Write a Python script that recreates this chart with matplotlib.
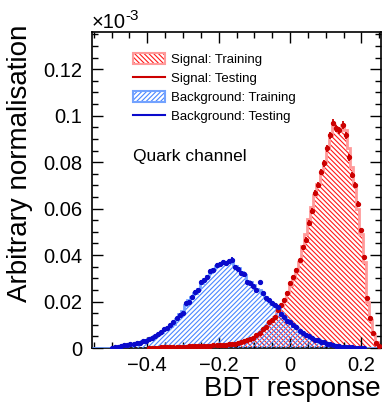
import numpy as np
import matplotlib
matplotlib.use("Agg")
import matplotlib.pyplot as plt
from matplotlib.patches import Patch
from matplotlib.lines import Line2D
from matplotlib.legend_handler import HandlerTuple
from matplotlib.ticker import MultipleLocator, FuncFormatter

plt.rcParams['font.family'] = ['Liberation Sans', 'DejaVu Sans']
plt.rcParams['hatch.linewidth'] = 0.8

# ---- data ----
x_min, x_max, n_bins = -0.555, 0.255, 94

bkg_train = [0, 0, 0, 0, 0, 0, 0.0002, 0.0003, 0.0005, 0.0008,
             0.0010, 0.0013, 0.0015, 0.0018, 0.0021, 0.0024, 0.0028, 0.0033, 0.0038, 0.0044,
             0.0052, 0.0060, 0.0070, 0.0080, 0.0088, 0.0096, 0.0105, 0.0125, 0.0145, 0.0158,
             0.0185, 0.0205, 0.0220, 0.0237, 0.0255, 0.0280, 0.0298, 0.0310, 0.0325, 0.0338,
             0.0355, 0.0362, 0.0365, 0.0370, 0.0368, 0.0378, 0.0355, 0.0345, 0.0328, 0.0315,
             0.0290, 0.0282, 0.0270, 0.0255, 0.0248, 0.0235, 0.0218, 0.0205, 0.0195, 0.0182,
             0.0172, 0.0150, 0.0135, 0.0120, 0.0108, 0.0098, 0.0088, 0.0075, 0.0065, 0.0058,
             0.0050, 0.0043, 0.0038, 0.0034, 0.0028, 0.0024, 0.0019, 0.0016, 0.0013, 0.0011,
             0.0008, 0.0006, 0.0005, 0.0004, 0.0003, 0.0002, 0.0002, 0.0001, 0.0001, 0,
             0, 0, 0, 0]

bkg_test = [0, 0, 0, 0, 0, 0, 0.0002, 0.0004, 0.0006, 0.0007,
            0.0011, 0.0012, 0.0016, 0.0017, 0.0022, 0.0023, 0.0029, 0.0032, 0.0040, 0.0045,
            0.0050, 0.0062, 0.0068, 0.0083, 0.0087, 0.0098, 0.0110, 0.0128, 0.0142, 0.0152,
            0.0192, 0.0200, 0.0218, 0.0240, 0.0250, 0.0284, 0.0293, 0.0306, 0.0330, 0.0335,
            0.0357, 0.0362, 0.0368, 0.0366, 0.0375, 0.0380, 0.0350, 0.0340, 0.0322, 0.0318,
            0.0284, 0.0278, 0.0266, 0.0250, 0.0282, 0.0236, 0.0214, 0.0206, 0.0193, 0.0186,
            0.0178, 0.0148, 0.0133, 0.0118, 0.0110, 0.0099, 0.0090, 0.0074, 0.0066, 0.0057,
            0.0051, 0.0044, 0.0036, 0.0035, 0.0027, 0.0025, 0.0018, 0.0017, 0.0013, 0.0010,
            0.0009, 0.0006, 0.0005, 0.0004, 0.0003, 0.0002, 0.0002, 0.0001, 0.0001, 0,
            0, 0, 0, 0]

sig_train = [0, 0, 0, 0, 0, 0, 0, 0, 0, 0,
             0, 0, 0, 0, 0, 0, 0, 0, 0.0001, 0.0001,
             0.0002, 0.0002, 0.0002, 0.0003, 0.0003, 0.0003, 0.0004, 0.0004, 0.0005, 0.0005,
             0.0006, 0.0006, 0.0007, 0.0007, 0.0008, 0.0008, 0.0009, 0.0010, 0.0011, 0.0011,
             0.0012, 0.0013, 0.0014, 0.0015, 0.0016, 0.0017, 0.0019, 0.0021, 0.0025, 0.0029,
             0.0034, 0.0038, 0.0043, 0.0053, 0.0065, 0.0078, 0.0092, 0.0108, 0.0120, 0.0135,
             0.0158, 0.0180, 0.0205, 0.0235, 0.0270, 0.0300, 0.0330, 0.0372, 0.0440, 0.0490,
             0.0555, 0.0605, 0.0660, 0.0705, 0.0760, 0.0800, 0.0860, 0.0915, 0.0960, 0.0945,
             0.0935, 0.0960, 0.0940, 0.0860, 0.0780, 0.0700, 0.0600, 0.0490, 0.0370, 0.0200,
             0.0120, 0.0060, 0.0025, 0.0008]

sig_test = [0, 0, 0, 0, 0, 0, 0, 0, 0, 0,
            0, 0, 0, 0, 0, 0, 0, 0, 0.0001, 0.0001,
            0.0002, 0.0002, 0.0003, 0.0003, 0.0003, 0.0004, 0.0004, 0.0005, 0.0005, 0.0005,
            0.0006, 0.0007, 0.0007, 0.0008, 0.0008, 0.0009, 0.0009, 0.0010, 0.0010, 0.0012,
            0.0012, 0.0013, 0.0015, 0.0015, 0.0017, 0.0018, 0.0019, 0.0022, 0.0026, 0.0030,
            0.0035, 0.0040, 0.0045, 0.0056, 0.0066, 0.0080, 0.0090, 0.0110, 0.0122, 0.0133,
            0.0162, 0.0185, 0.0207, 0.0238, 0.0278, 0.0305, 0.0335, 0.0378, 0.0434, 0.0465,
            0.0540, 0.0590, 0.0665, 0.0700, 0.0757, 0.0795, 0.0860, 0.0916, 0.0970, 0.0946,
            0.0937, 0.0960, 0.0916, 0.0820, 0.0744, 0.0700, 0.0620, 0.0507, 0.0390, 0.0215,
            0.0130, 0.0065, 0.0020, 0.0008]

legend_labels = ["Signal: Training", "Signal: Testing",
                 "Background: Training", "Background: Testing"]

# ---- style ----
sig_hatch_col = '#ff1a1a'
sig_line_col = '#ff9a9a'
sig_pt_col = '#cc0000'
bkg_hatch_col = '#4a86ff'
bkg_line_col = '#72a2ff'
bkg_pt_col = '#0a0acc'
sig_hatch = '\\' * 7
bkg_hatch = '/' * 7

edges = np.linspace(x_min, x_max, n_bins + 1)
centers = 0.5 * (edges[:-1] + edges[1:])

fig = plt.figure(figsize=(3.86, 4.09), dpi=100)
ax = fig.add_axes([92/386, 1 - 348/409, 289/386, 316/409])

# signal training
ax.stairs(sig_train, edges, fill=True, facecolor='none', edgecolor=sig_hatch_col,
          hatch=sig_hatch, linewidth=0, zorder=1)
ax.stairs(sig_train, edges, color=sig_line_col, linewidth=2.0, baseline=0, zorder=2)
# background training
ax.stairs(bkg_train, edges, fill=True, facecolor='none', edgecolor=bkg_hatch_col,
          hatch=bkg_hatch, linewidth=0, zorder=3)
ax.stairs(bkg_train, edges, color=bkg_line_col, linewidth=2.0, baseline=0, zorder=4)

def draw_points(vals, col):
    v = np.asarray(vals)
    m = v > 0
    err = np.sqrt(v[m] * 2.5e-5)
    ax.errorbar(centers[m], v[m], yerr=err, fmt='o', ms=2.8, color=col,
                elinewidth=1.3, capsize=0, zorder=6)

draw_points(sig_test, sig_pt_col)
draw_points(bkg_test, bkg_pt_col)

ax.set_xlim(x_min, x_max)
ax.set_ylim(0, 0.136)

ax.xaxis.set_major_locator(MultipleLocator(0.2))
ax.xaxis.set_minor_locator(MultipleLocator(0.05))
ax.yaxis.set_major_locator(MultipleLocator(0.02))
ax.yaxis.set_minor_locator(MultipleLocator(0.005))
ax.xaxis.set_major_formatter(FuncFormatter(lambda v, p: f"{v:g}".replace('-', '\u2212')))
ax.yaxis.set_major_formatter(FuncFormatter(lambda v, p: f"{v:g}"))
ax.tick_params(which='both', direction='in', top=True, right=True, labelsize=14.5, width=1)
ax.tick_params(which='major', length=8)
ax.tick_params(which='minor', length=4.5)
ax.tick_params(axis='y', pad=7)
ax.tick_params(axis='x', pad=6)
for s in ax.spines.values():
    s.set_linewidth(1.2)

ax.set_xlabel("BDT response", fontsize=20, ha='right')
ax.xaxis.set_label_coords(1.0, -0.088)
ax.set_ylabel("Arbitrary normalisation", fontsize=20, ha='right')
ax.yaxis.set_label_coords(-0.205, 1.022)

fig.text(92/386, 1 - 28/409, "\u00d710", fontsize=14.5, ha='left', va='baseline')
fig.text(125/386, 1 - 20/409, "-3", fontsize=11, ha='left', va='baseline')

ax.text(133/386, 1 - 161/409, "Quark channel", fontsize=12.5, transform=fig.transFigure,
        ha='left', va='baseline')

h_sig_tr = (Patch(facecolor='none', edgecolor=sig_hatch_col, hatch=sig_hatch, linewidth=0),
            Patch(facecolor='none', edgecolor=sig_line_col, linewidth=1.5))
h_sig_te = Line2D([], [], color=sig_pt_col, linewidth=1.5)
h_bkg_tr = (Patch(facecolor='none', edgecolor=bkg_hatch_col, hatch=bkg_hatch, linewidth=0),
            Patch(facecolor='none', edgecolor=bkg_line_col, linewidth=1.5))
h_bkg_te = Line2D([], [], color=bkg_pt_col, linewidth=1.5)

leg = ax.legend([h_sig_tr, h_sig_te, h_bkg_tr, h_bkg_te], legend_labels,
                handler_map={tuple: HandlerTuple(ndivide=1, pad=0)},
                loc='upper left', bbox_to_anchor=(133/386, 1 - 53/409),
                bbox_transform=fig.transFigure, frameon=False, fontsize=9.5,
                handlelength=2.4, handleheight=0.9, handletextpad=0.45,
                labelspacing=0.45, borderpad=0, borderaxespad=0)

fig.savefig("out.png", dpi=100)
